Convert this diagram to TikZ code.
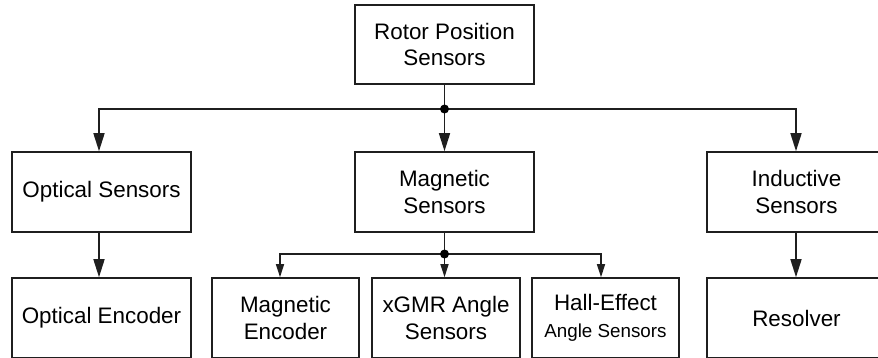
\documentclass[tikz,border=0pt]{standalone}
\usepackage{fontspec}
\setmainfont{Liberation Sans}
\usetikzlibrary{arrows.meta}
\begin{document}
\begin{tikzpicture}[x=1pt,y=-1pt,
  box/.style={draw=black!88,line width=1.6pt,inner sep=0pt,align=center,
    minimum height=80pt,font=\fontsize{22.4}{26.5}\selectfont},
  wide/.style={box,minimum width=179pt},
  narrow/.style={box,minimum width=147pt},
  link/.style={draw=black!88,line width=1.6pt},
  bigarrow/.style={link,-{Triangle[length=18pt,width=11pt]}},
  smallarrow/.style={link,-{Triangle[length=13pt,width=8pt]}},
  junction/.style={circle,fill=black,inner sep=0pt,minimum size=9pt}]
\useasboundingbox (0,0) rectangle (878,357);
\clip (0,0) rectangle (878,357);

% top level
\node[wide,minimum height=79pt] (root) at (444.5,44.5) {Rotor Position\\Sensors};

% sensor families
\node[wide] (opt) at (101.5,192) {Optical Sensors};
\node[wide] (mag) at (444.5,192) {Magnetic\\Sensors};
\node[wide] (ind) at (796.5,192) {Inductive\\Sensors};

% concrete sensors
\node[wide]   (enc)  at (101.5,318) {Optical Encoder};
\node[narrow] (menc) at (285.5,318) {Magnetic\\Encoder};
\node[narrow,minimum width=148pt] (xgmr) at (446,318) {xGMR Angle\\Sensors};
\node[narrow] (hall) at (605.5,318) {Hall-Effect\\{\fontsize{18.8}{22}\selectfont Angle Sensors}};
\node[wide]   (res)  at (796.5,318) {Resolver};

% first branching
\coordinate (j1) at (root.south |- 0,109);
\draw[bigarrow] (root.south) -- (mag.north);
\draw[bigarrow] (j1) -| ([xshift=-2.5pt]opt.north);
\draw[bigarrow] (j1) -| ([xshift=-0.5pt]ind.north);
\node[junction] at (j1) {};

% second-level links
\draw[bigarrow] ([xshift=-2.5pt]opt.south) -- ([xshift=-2.5pt]enc.north);
\draw[bigarrow] ([xshift=-0.5pt]ind.south) -- ([xshift=-0.5pt]res.north);

% magnetic branching
\coordinate (j2) at (mag.south |- 0,254);
\draw[link] (mag.south) -- (j2);
\draw[smallarrow] (j2) -- (j2 |- xgmr.north);
\draw[smallarrow] (j2) -| ([xshift=-5.5pt]menc.north);
\draw[smallarrow] (j2) -| ([xshift=-4.5pt]hall.north);
\node[junction] at (j2) {};
\end{tikzpicture}
\end{document}
